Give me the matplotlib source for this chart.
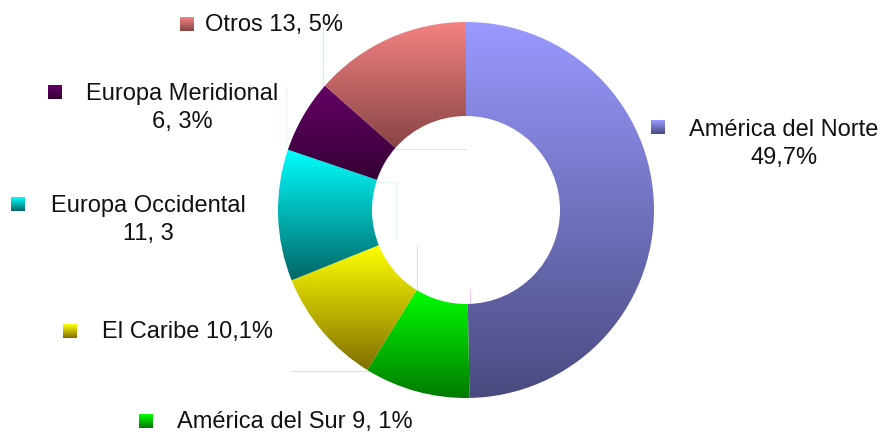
import numpy as np
import matplotlib.pyplot as plt
from matplotlib.patches import Wedge
from matplotlib.colors import LinearSegmentedColormap

plt.rcParams['font.family'] = ['Liberation Sans', 'DejaVu Sans']

# datos (porcentaje por region)
regiones = ['América del Norte', 'América del Sur', 'El Caribe',
            'Europa Occidental', 'Europa Meridional', 'Otros']
valores = [49.7, 9.1, 10.1, 11.3, 6.3, 13.5]
etiquetas = ['América del Norte\n49,7%', 'América del Sur 9, 1%', 'El Caribe 10,1%',
             'Europa Occidental\n11, 3', 'Europa Meridional\n6, 3%', 'Otros 13, 5%']
colores_top = ['#9999ff', '#00ff00', '#ffff00', '#00ffff', '#660066', '#f48282']
colores_bot = ['#4a4a80', '#007a00', '#807000', '#006666', '#330033', '#884444']

W, H = 883, 435
fig = plt.figure(figsize=(W / 100, H / 100), dpi=100)
ax = fig.add_axes([0, 0, 1, 1])
ax.set_xlim(0, W)
ax.set_ylim(H, 0)
ax.axis('off')

cx, cy, r_out, r_in = 466, 211, 188, 94

# lineas guia tenues
guias = [([323, 323, 466], [28, 150, 150], '#c8f0f0'),
         ([286, 286], [88, 150], '#eaf6ea'),
         ([286, 396, 396], [183, 183, 240], '#e4f6f6'),
         ([291, 417, 417], [372, 372, 246], '#dcdcff'),
         ([470, 470], [290, 306], '#f4ccf4')]
for xs, ys, c in guias:
    ax.plot(xs, ys, color=c, lw=0.8, zorder=1)

ang = 270.0
total = sum(valores)
for i, v in enumerate(valores):
    t1 = ang
    t2 = ang + v / total * 360
    ang = t2
    w = Wedge((cx, cy), r_out, t1, t2, width=r_out - r_in, facecolor='none',
              edgecolor='none')
    ax.add_patch(w)
    th = np.radians(np.linspace(t1, t2, 200))
    ys = np.concatenate([cy + r_out * np.sin(th), cy + r_in * np.sin(th)])
    xs = np.concatenate([cx + r_out * np.cos(th), cx + r_in * np.cos(th)])
    cmap = LinearSegmentedColormap.from_list('g%d' % i, [colores_top[i], colores_bot[i]])
    grad = np.linspace(0, 1, 256).reshape(-1, 1)
    im = ax.imshow(grad, cmap=cmap, aspect='auto',
                   extent=[xs.min(), xs.max(), ys.max(), ys.min()], zorder=2)
    im.set_clip_path(w)

ax.set_xlim(0, W)
ax.set_ylim(H, 0)

# leyendas con marcador
pos_marcador = [(658, 128), (146, 422), (70, 332), (18, 205), (55, 93), (187, 25)]
pos_texto = [(784, 144, 'center'), (177, 422, 'left'), (102, 332, 'left'),
             (148, 220, 'center'), (182, 108, 'center'), (205, 25, 'left')]
s = 7
for i in range(len(regiones)):
    mx, my = pos_marcador[i]
    cmap = LinearSegmentedColormap.from_list('m%d' % i, [colores_top[i], colores_bot[i]])
    ax.imshow(np.linspace(0, 1, 32).reshape(-1, 1), cmap=cmap, aspect='auto',
              extent=[mx - s, mx + s, my + s, my - s], zorder=3)
    tx, ty, ha = pos_texto[i]
    ax.text(tx, ty, etiquetas[i], ha=ha, va='center', fontsize=17,
            color='#111111', linespacing=1.4, zorder=4)

ax.set_xlim(0, W)
ax.set_ylim(H, 0)
fig.savefig('out.png', dpi=100)
